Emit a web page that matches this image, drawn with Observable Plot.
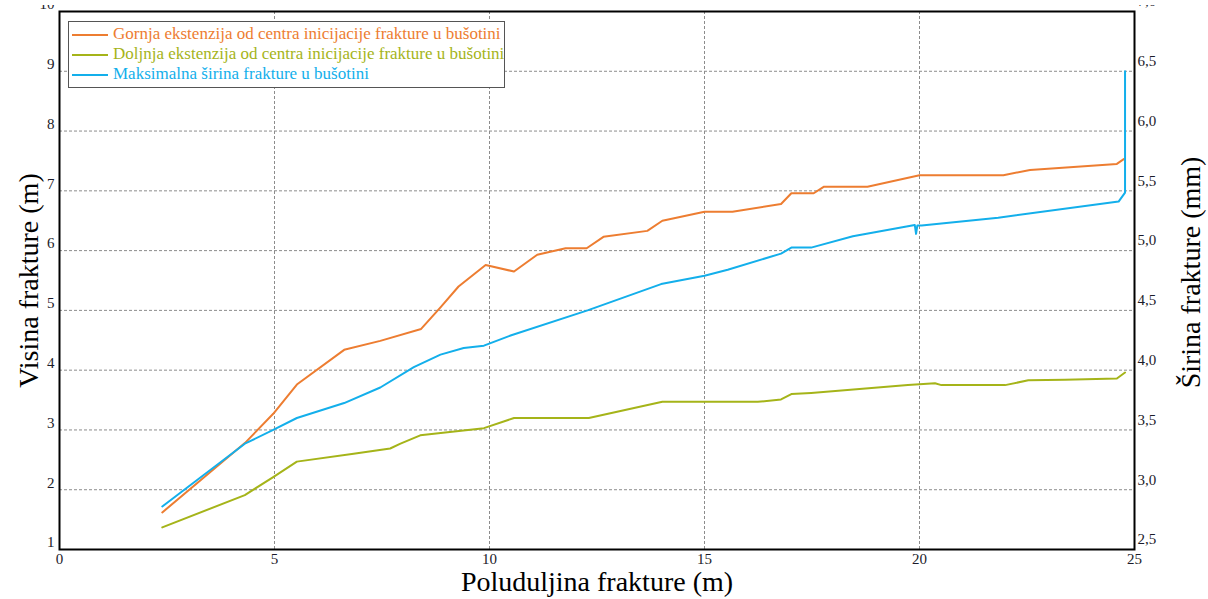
<!DOCTYPE html>
<html>
<head>
<meta charset="utf-8">
<script src="https://cdn.jsdelivr.net/npm/d3@7"></script>
<script src="https://cdn.jsdelivr.net/npm/@observablehq/plot@0.6"></script>
<style>
  html, body { margin: 0; padding: 0; background: #fff; }
  #wrap { position: relative; width: 1208px; height: 599px; font-family: "Liberation Serif", "DejaVu Serif", serif; }
  #wrap svg { clip-path: inset(5px 0 0 0); }
  #wrap svg text { font-family: "Liberation Serif", "DejaVu Serif", serif; }
  #legend { position: absolute; left: 68px; top: 21px; width: 435px; height: 65px; border: 1px solid #555; background: #fff; box-sizing: content-box; }
  .row { position: absolute; left: 0; height: 20px; font-size: 17px; line-height: 20px; white-space: nowrap; }
  .row .sw { position: absolute; left: 3px; top: 10px; width: 36px; height: 2px; }
  .row .tx { position: absolute; left: 44px; top: 0; }
</style>
</head>
<body>
<div id="wrap"></div>
<script>
// ---- data ----
const seriesNames = [
  "Gornja ekstenzija od centra inicijacije frakture u bušotini",
  "Doljnja ekstenzija od centra inicijacije frakture u bušotini",
  "Maksimalna širina frakture u bušotini"
];
const seriesColors = ["#ED7D31", "#A5B419", "#13AFEB"];

const gornjaX = [2.39, 4.31, 4.97, 5.52, 6.62, 7.46, 8.41, 8.86, 9.28, 9.91, 10.57, 11.11, 11.77, 12.26, 12.65, 13.67, 14.02, 15.0, 15.65, 16.78, 17.02, 17.54, 17.78, 18.79, 20.0, 21.95, 22.57, 24.59, 24.75];
const gornjaY = [1.62, 2.78, 3.27, 3.76, 4.34, 4.49, 4.69, 5.05, 5.40, 5.76, 5.65, 5.93, 6.04, 6.04, 6.23, 6.33, 6.50, 6.65, 6.65, 6.78, 6.96, 6.96, 7.07, 7.07, 7.26, 7.26, 7.35, 7.45, 7.53];

const doljnjaX = [2.39, 4.31, 4.97, 5.52, 6.84, 7.69, 7.93, 8.39, 9.87, 10.57, 12.31, 14.02, 16.24, 16.78, 17.02, 17.48, 19.73, 20.36, 20.51, 21.99, 22.53, 23.38, 24.59, 24.78];
const doljnjaY = [1.37, 1.91, 2.21, 2.47, 2.60, 2.69, 2.77, 2.91, 3.03, 3.20, 3.20, 3.47, 3.47, 3.51, 3.60, 3.62, 3.75, 3.78, 3.75, 3.75, 3.83, 3.84, 3.86, 3.96];

// width in mm (right axis)
const sirinaX  = [2.39, 4.31, 4.97, 5.52, 6.62, 7.46, 8.24, 8.86, 9.40, 9.87, 10.49, 12.28, 13.99, 15.0, 15.54, 16.78, 17.02, 17.48, 18.45, 19.89, 19.92, 19.95, 20.05, 21.83, 24.63, 24.78, 24.78];
const sirinaMm = [2.86, 3.385, 3.50, 3.60, 3.725, 3.855, 4.025, 4.13, 4.185, 4.205, 4.29, 4.50, 4.72, 4.79, 4.84, 4.975, 5.025, 5.025, 5.12, 5.215, 5.14, 5.21, 5.21, 5.275, 5.41, 5.485, 6.5];

const xTicks = [0, 5, 10, 15, 20, 25];
const leftTicks = [1, 2, 3, 4, 5, 6, 7, 8, 9, 10];
const rightTickLabels = ["2,5", "3,0", "3,5", "4,0", "4,5", "5,0", "5,5", "6,0", "6,5", "7,0"];
const rightDomain = [2.5, 7.0];
const leftDomain = [1, 10];

const xLabel = "Poluduljina frakture (m)";
const yLabelLeft = "Visina frakture (m)";
const yLabelRight = "Širina frakture (mm)";

// ---- build ----
const mmToLeft = d3.scaleLinear().domain(rightDomain).range(leftDomain);
const rows = [];
gornjaX.forEach((x, i) => rows.push({s: 0, x, y: gornjaY[i]}));
doljnjaX.forEach((x, i) => rows.push({s: 1, x, y: doljnjaY[i]}));
sirinaX.forEach((x, i) => rows.push({s: 2, x, y: mmToLeft(sirinaMm[i])}));

const font = "Liberation Serif";
const tickFill = "#1b1b2a";
const chart = Plot.plot({
  width: 1208,
  height: 599,
  marginLeft: 59,
  marginRight: 74,
  marginTop: 11,
  marginBottom: 50,
  style: {fontFamily: font, background: "#fff", overflow: "visible"},
  x: {domain: [0, 25], ticks: xTicks},
  y: {domain: leftDomain, ticks: leftTicks},
  marks: [
    Plot.gridX([5, 10, 15, 20], {stroke: "#8c8c8c", strokeOpacity: 1, strokeDasharray: "3,2"}),
    Plot.gridY([2, 3, 4, 5, 6, 7, 8, 9], {stroke: "#8c8c8c", strokeOpacity: 1, strokeDasharray: "3,2"}),
    Plot.line(rows, {x: "x", y: "y", z: "s", stroke: d => seriesColors[d.s], strokeWidth: 2, strokeLinejoin: "round", curve: "linear"}),
    Plot.frame({stroke: "#000", strokeWidth: 2}),
    Plot.axisX(xTicks, {tickSize: 0, tickPadding: 4, fontSize: 15, fill: tickFill, label: null, tickFormat: d => String(d)}),
    Plot.axisY(leftTicks, {anchor: "left", tickSize: 0, tickPadding: 5, dy: -7, fontSize: 15, fill: tickFill, label: null, tickFormat: d => String(d)}),
    Plot.axisY(leftTicks, {anchor: "right", tickSize: 0, tickPadding: 3, dy: -10, fontSize: 15, fill: tickFill, label: null,
      tickFormat: (d, i) => rightTickLabels[i]}),
    Plot.text([xLabel], {frameAnchor: "bottom", dy: 33, lineAnchor: "middle", textAnchor: "middle", fontSize: 28, fill: "#000", text: d => d}),
    Plot.text([yLabelLeft], {frameAnchor: "left", dx: -30, lineAnchor: "middle", textAnchor: "middle", rotate: -90, fontSize: 28, fill: "#000", text: d => d}),
    Plot.text([yLabelRight], {frameAnchor: "right", dx: 57, dy: -8, lineAnchor: "middle", textAnchor: "middle", rotate: -90, fontSize: 28, fill: "#000", text: d => d})
  ]
});

const wrap = document.getElementById("wrap");
wrap.appendChild(chart);

const legend = document.createElement("div");
legend.id = "legend";
seriesNames.forEach((name, i) => {
  const r = document.createElement("div");
  r.className = "row";
  r.style.top = (2 + i * 20) + "px";
  r.innerHTML = `<span class="sw" style="background:${seriesColors[i]}"></span><span class="tx" style="color:${seriesColors[i]}">${name}</span>`;
  legend.appendChild(r);
});
wrap.appendChild(legend);
</script>
</body>
</html>
